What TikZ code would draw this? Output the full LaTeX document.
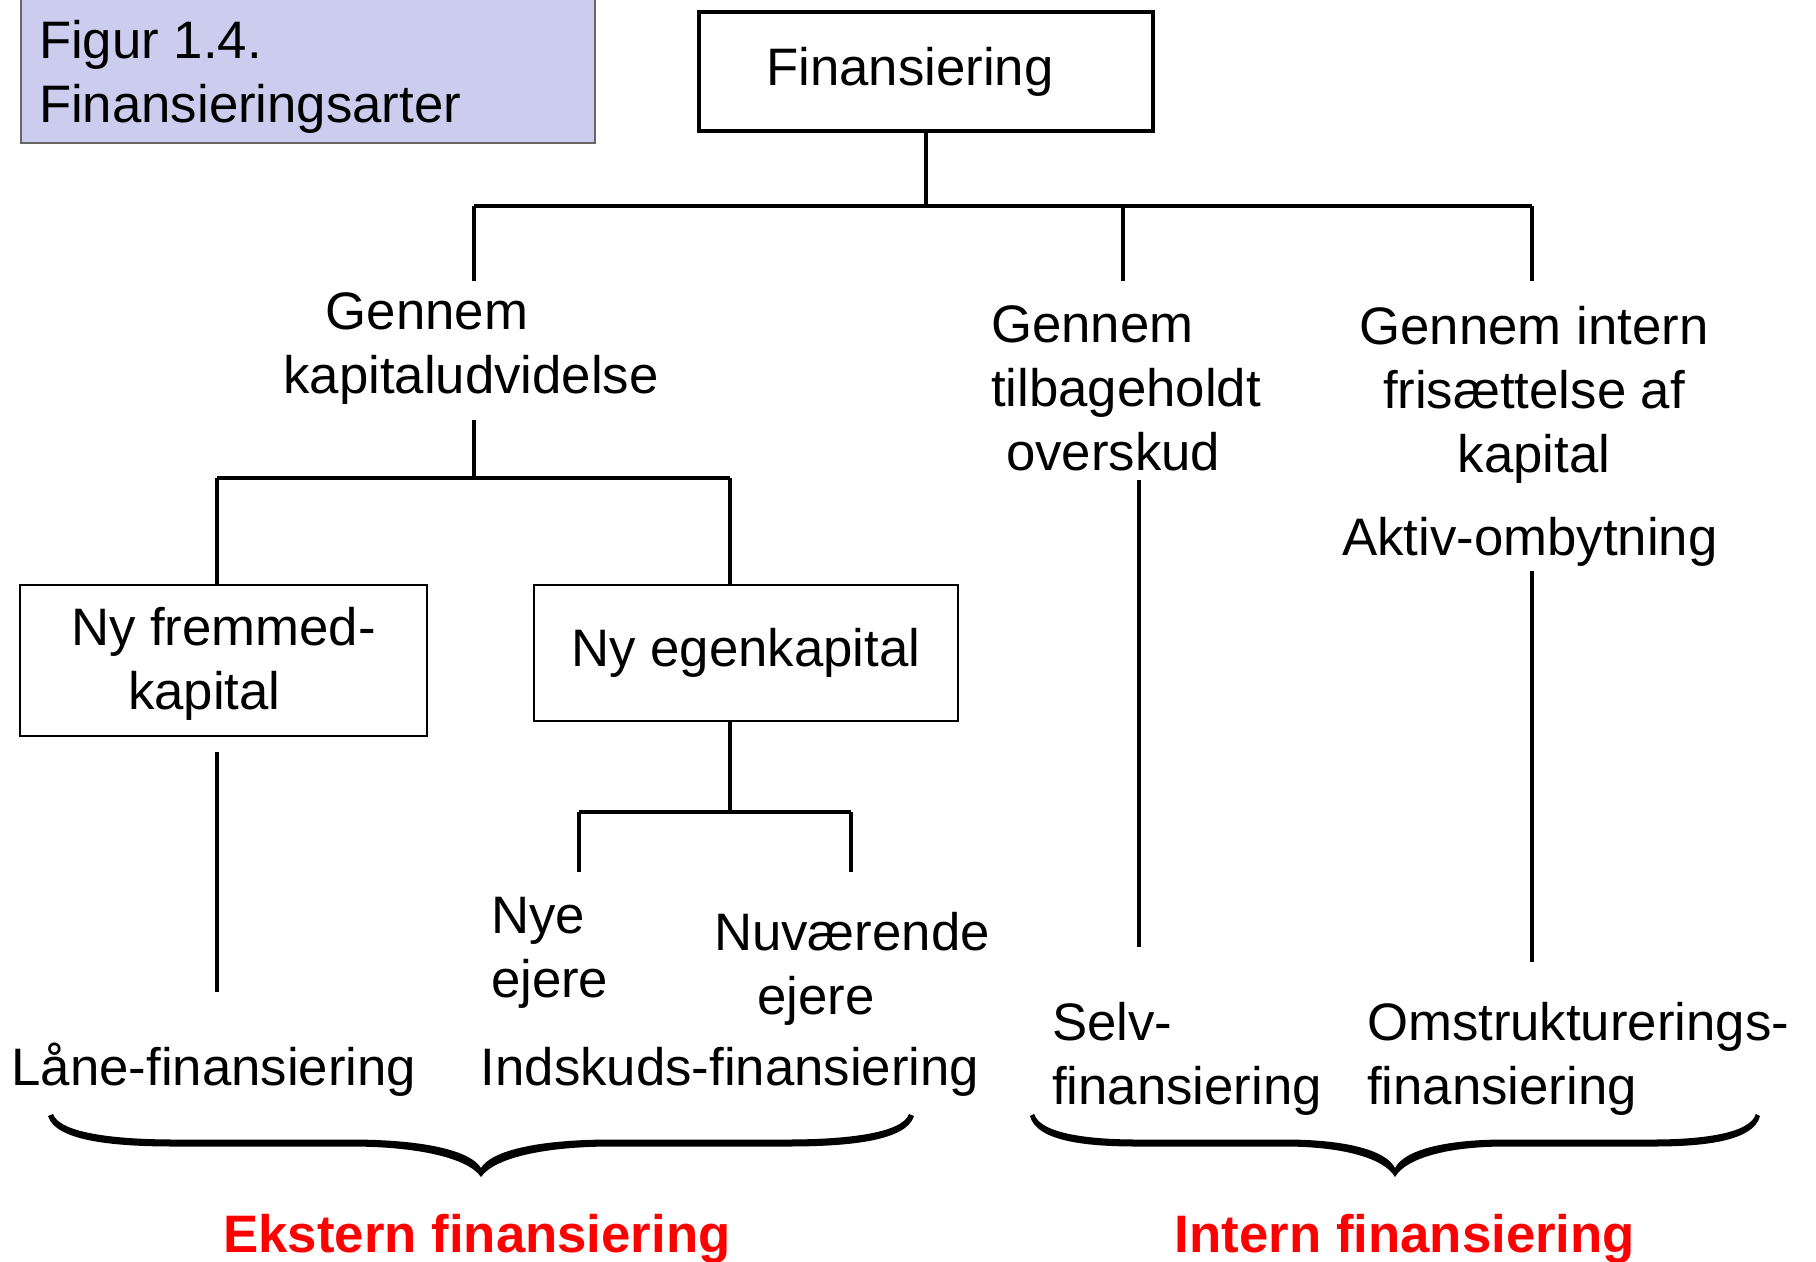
\documentclass[tikz,border=0pt]{standalone}
\usepackage{fontspec}
\setmainfont{Liberation Sans}
\definecolor{titlefill}{RGB}{204,204,238}
\definecolor{accentred}{RGB}{255,0,0}
% blank space that survives at the end of a line
\newcommand\trailgap[1]{\rule{#1}{0pt}}
\begin{document}
\begin{tikzpicture}[x=0.01cm, y=-0.01cm,
  font=\fontsize{15}{18.2}\selectfont,
  conn/.style={line width=1pt},
  txt/.style={inner sep=0pt, outer sep=0pt},
  thinbox/.style={draw, line width=0.55pt, inner sep=0pt},
  curlybrace/.pic={
    \fill (-433,-60) .. controls (-425,-34) and (-363,-29.5) .. (-306,-29.5)
      -- (-131,-29.5) .. controls (-63,-29.5) and (-13,-18) .. (0,1)
      .. controls (13,-18) and (63,-29.5) .. (131,-29.5)
      -- (306,-29.5) .. controls (363,-29.5) and (425,-34) .. (433,-60)
      -- (428,-62) .. controls (421,-42) and (361,-36.5) .. (306,-36.5)
      -- (131,-36.5) .. controls (59,-36.5) and (11,-26) .. (0,-8)
      .. controls (-11,-26) and (-59,-36.5) .. (-131,-36.5)
      -- (-306,-36.5) .. controls (-361,-36.5) and (-421,-42) .. (-428,-62)
      -- cycle;
  }]
\useasboundingbox (0,0) rectangle (1816,1261);

% title panel
\node[draw=black!60, line width=0.5pt, fill=titlefill, minimum width=5.74cm,
      minimum height=1.5cm, inner sep=0pt, anchor=south west] (titlebox) at (20,144) {};
\node[txt, align=left, anchor=north west] (title) at (39,20) {Figur 1.4.\\Finansieringsarter};

% root
\node[draw, line width=1pt, minimum width=4.54cm, minimum height=1.19cm, inner sep=0pt]
  (fin) at (926,71.5) {\raisebox{-0.05cm}{Finansiering}\trailgap{0.32cm}};

% first level
\coordinate (t0) at (926,206);
\coordinate (t0L) at (474,206);
\coordinate (t0M) at (1123,206);
\coordinate (t0R) at (1532,206);
\draw[conn] (fin.south) -- (t0);
\draw[conn] (t0L) -- (t0R);
\draw[conn] (t0L) -- (474,281);
\draw[conn] (t0M) -- (1123,281);
\draw[conn] (t0R) -- (1532,281);

\node[txt, align=center, anchor=north] (kap) at (471,293)
  {Gennem\trailgap{0.88cm}\\kapitaludvidelse};
\node[txt, align=left, anchor=north west] (tilb) at (991,306)
  {Gennem\\tilbageholdt\\\hspace*{0.15cm}overskud};
\node[txt, align=center, anchor=north] (intern) at (1534,306)
  {Gennem intern\\frisættelse af\\kapital};
\node[txt, anchor=base] (aktiv) at (1530,555) {Aktiv-ombytning};

% external branch
\coordinate (k0) at (474,420);
\coordinate (k1) at (474,478);
\coordinate (k1L) at (217,478);
\coordinate (k1R) at (730,478);
\draw[conn] (k0) -- (k1);
\draw[conn] (k1L) -- (k1R);

\node[thinbox, minimum width=4.07cm, minimum height=1.51cm, align=center]
  (fremmed) at (223.5,660.5) {\rule{0pt}{0.45cm}Ny fremmed-\\kapital\trailgap{0.38cm}};
\node[thinbox, minimum width=4.24cm, minimum height=1.36cm]
  (egen) at (746,653) {Ny egenkapital};
\draw[conn] (k1L) -- (k1L |- fremmed.north);
\draw[conn] (k1R) -- (k1R |- egen.north);

\coordinate (f0) at (217,752);
\coordinate (f1) at (217,992);
\draw[conn] (f0) -- (f1);

\coordinate (q0) at (730,812);
\coordinate (qL) at (579,812);
\coordinate (qR) at (851,812);
\draw[conn] (q0 |- egen.south) -- (q0);
\draw[conn] (qL) -- (qR);
\draw[conn] (qL) -- (579,872);
\draw[conn] (qR) -- (851,872);

\node[txt, align=left, anchor=north west] (nye) at (491,897) {Nye\\ejere};
\node[txt, align=center, anchor=north] (nuv) at (852,912) {Nuværende\\ejere\trailgap{0.72cm}};
\node[txt, anchor=base] (laan) at (214,1085) {Låne-finansiering};
\node[txt, anchor=base] (indsk) at (730,1085) {Indskuds-finansiering};

% internal branch
\draw[conn] (1139,480) -- (1139,947);
\draw[conn] (1532,571) -- (1532,962);
\node[txt, align=left, anchor=north west] (selv) at (1052,1002) {Selv-\\finansiering};
\node[txt, align=left, anchor=north west] (omstr) at (1367,1002) {Omstrukturerings-\\finansiering};

% grouping braces
\pic at (481,1176) {curlybrace};
\pic[xscale=0.843] at (1395,1176) {curlybrace};

\node[txt, anchor=base, text=accentred, font=\fontsize{15}{18}\selectfont\bfseries]
  (ekst) at (477,1252) {Ekstern finansiering};
\node[txt, anchor=base, text=accentred, font=\fontsize{15}{18}\selectfont\bfseries]
  (int) at (1405,1252) {Intern finansiering};
\end{tikzpicture}
\end{document}
